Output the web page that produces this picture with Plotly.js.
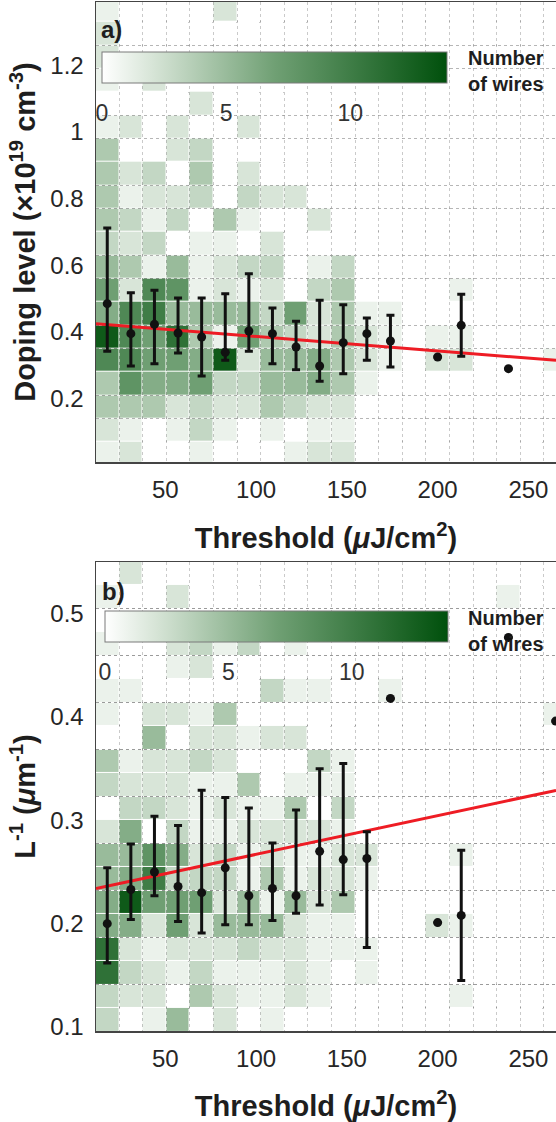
<!DOCTYPE html>
<html>
<head>
<meta charset="utf-8">
<script src="https://cdn.plot.ly/plotly-3.0.1.min.js"></script>
<style>
  html, body { margin: 0; padding: 0; background: #ffffff; }
  #chart { width: 556px; height: 1122px; }
</style>
</head>
<body>
<div id="chart"></div>
<script>
// ---------- data ----------
// threshold bins (columns), 20 bins of 13 uJ/cm2 starting at 11.5
const thresholdBinStart = 11.5;
const thresholdBinWidth = 13;
const thresholdTicks = [50, 100, 150, 200, 250];

// panel a: doping level bins (rows), 20 bins of 0.07 starting at 0
const dopingBinStart = 0;
const dopingBinWidth = 0.07;
const dopingTicks = [0.2, 0.4, 0.6, 0.8, 1, 1.2];

// panel b: inverse length bins (rows), 20 bins starting at 0.0955
const invLenBinStart = 0.0955;
const invLenBinWidth = 0.02273;
const invLenTicks = [0.1, 0.2, 0.3, 0.4, 0.5];

const countTicks = [0, 5, 10];

// number of wires per cell, rows from bottom to top, columns from left to right
const dopingCounts = [
  [1,2,0,0,1,0,0,0,1,2,2,0,0,0,0,0,0,0,0,0],
  [2,1,0,1,3,1,0,1,0,1,1,0,0,0,0,0,0,0,0,0],
  [4,4,4,2,3,2,2,4,3,2,2,0,0,0,0,0,0,0,0,0],
  [4,8,6,6,7,3,3,5,5,6,4,1,0,0,0,0,0,0,0,0],
  [9,9,7,7,6,13,2,5,5,6,4,2,1,0,2,2,0,0,0,1],
  [13,9,7,11,4,1,7,4,3,2,4,2,1,0,1,1,0,0,0,0],
  [6,9,10,5,5,5,5,3,7,2,4,1,1,0,0,0,0,0,0,0],
  [7,2,9,8,1,2,1,2,0,3,4,0,0,0,0,1,0,0,0,0],
  [5,4,1,5,1,2,3,3,0,1,3,0,0,0,0,0,0,0,0,0],
  [3,2,3,0,1,1,0,2,0,0,0,0,0,0,0,0,0,0,0,0],
  [4,3,1,3,0,4,1,0,0,2,0,0,0,0,0,0,0,0,0,0],
  [4,1,2,2,3,0,3,2,2,0,0,0,0,0,0,0,0,0,0,0],
  [4,2,3,0,4,0,2,0,0,0,0,0,0,0,0,0,0,0,0,0],
  [4,0,0,2,3,0,0,0,0,0,0,0,0,0,0,0,0,0,0,0],
  [1,2,0,2,0,0,2,0,0,0,0,0,0,0,0,0,0,0,0,0],
  [0,0,0,0,2,0,0,0,0,0,0,0,0,0,0,0,0,0,0,0],
  [1,0,2,0,0,0,0,0,0,0,0,0,0,0,0,0,0,0,0,0],
  [2,0,0,0,0,0,0,0,0,0,0,0,0,0,0,0,0,0,0,0],
  [2,0,0,0,0,0,0,0,0,0,0,0,0,0,0,0,0,0,0,0],
  [1,0,0,0,0,2,0,0,0,0,0,0,0,0,0,0,0,0,0,0]
];

const invLenCounts = [
  [3,0,1,5,0,2,0,1,0,0,0,0,0,0,0,0,0,0,0,0],
  [3,2,2,0,4,2,1,1,2,1,0,0,0,0,0,1,0,0,0,0],
  [11,3,2,1,3,1,1,1,2,1,0,1,0,0,0,0,0,0,0,0],
  [11,2,1,2,2,2,3,2,2,1,1,1,0,0,0,0,0,0,0,0],
  [6,6,2,7,2,5,5,5,2,1,1,0,0,0,2,1,0,0,0,0],
  [6,13,7,7,7,2,5,1,5,2,4,0,0,0,0,0,0,0,0,0],
  [5,6,10,3,3,3,1,4,1,2,2,1,0,0,0,0,0,0,0,0],
  [5,5,8,6,2,3,1,2,1,1,2,2,0,0,0,1,0,0,0,0],
  [2,6,0,3,1,1,2,2,2,2,1,0,0,0,0,0,0,0,0,0],
  [0,3,3,2,1,2,1,1,4,0,3,0,0,0,0,0,0,0,0,0],
  [3,2,2,2,1,1,4,0,1,1,1,0,0,0,0,0,0,0,0,0],
  [4,1,2,2,3,2,0,0,0,3,1,0,0,0,0,0,0,0,0,0],
  [0,0,5,0,2,2,1,2,2,0,0,0,0,0,0,0,0,0,0,0],
  [1,0,2,2,1,4,0,0,0,0,0,0,0,0,0,0,0,0,0,1],
  [1,1,0,0,0,0,0,3,1,1,0,0,1,0,0,0,0,0,0,0],
  [0,0,0,1,2,0,0,0,0,0,0,0,0,0,0,0,0,0,0,0],
  [1,0,0,2,3,1,3,0,1,0,0,0,0,0,0,0,0,0,0,0],
  [0,0,0,0,0,0,0,0,0,0,0,0,0,0,0,0,0,0,0,0],
  [1,0,0,2,0,0,0,0,0,0,0,0,0,0,0,0,0,1,0,0],
  [0,2,0,0,0,0,0,0,0,0,0,0,0,0,0,0,0,0,0,0]
];

// panel a: binned means with error-bar ends
const dopingX     = [18, 31, 44, 57, 70, 83, 96, 109, 122, 135, 148, 161, 174, 200, 213, 239];
const dopingMean  = [0.485, 0.395, 0.423, 0.397, 0.385, 0.339, 0.403, 0.395, 0.355, 0.298, 0.368, 0.395, 0.373, 0.325, 0.420, 0.290];
const dopingUpper = [0.712, 0.518, 0.525, 0.502, 0.502, 0.515, 0.575, 0.472, 0.432, 0.495, 0.482, 0.442, 0.450, null, 0.513, null];
const dopingLower = [0.342, 0.298, 0.305, 0.337, 0.268, 0.315, 0.342, 0.305, 0.287, 0.252, 0.275, 0.315, 0.295, null, 0.327, null];
const dopingFitX  = [11.8, 265.2];
const dopingFitY  = [0.425, 0.315];

// panel b: binned means with error-bar ends
const invLenX     = [18, 31, 44, 57, 70, 83, 96, 109, 122, 135, 148, 161, 174, 200, 213, 239, 265];
const invLenMean  = [0.200, 0.233, 0.250, 0.236, 0.230, 0.254, 0.227, 0.234, 0.227, 0.270, 0.262, 0.263, 0.418, 0.201, 0.208, 0.477, 0.396];
const invLenUpper = [0.254, 0.277, 0.304, 0.295, 0.329, 0.322, 0.312, 0.278, 0.310, 0.350, 0.355, 0.289, null, null, 0.271, null, null];
const invLenLower = [0.162, 0.204, 0.227, 0.202, 0.191, 0.199, 0.199, 0.203, 0.210, 0.218, 0.228, 0.177, null, null, 0.145, null, null];
const invLenFitX  = [11.8, 265.2];
const invLenFitY  = [0.234, 0.329];

// ---------- helpers ----------
function plusErr(upper, mean) { return upper.map((u, i) => u === null ? null : u - mean[i]); }
function minusErr(lower, mean) { return lower.map((l, i) => l === null ? null : mean[i] - l); }

const greens = [[0, '#ffffff'], [0.15, '#d6e4d6'], [0.5, '#70a074'], [1, '#00500c']];
const W = 556, H = 1122;
const gridStyle = { showgrid: true, gridcolor: '#959595', griddash: 'dot', gridwidth: 1 };
const tickFont = { family: 'Liberation Sans, Arial, sans-serif', size: 24, color: '#262626' };
const titleFont = { family: 'Liberation Sans, Arial, sans-serif', size: 29, color: '#1e1e1e' };

function colorbarFor(topPx, leftPx, lenPx) {
  return {
    orientation: 'h', xref: 'paper', yref: 'paper',
    x: (leftPx - 96) / (W - 96), xanchor: 'left',
    y: 1 - topPx / H, yanchor: 'top',
    len: lenPx, lenmode: 'pixels', thickness: 31, thicknessmode: 'pixels',
    xpad: 0, ypad: 0, outlinecolor: '#7a7a7a', outlinewidth: 1,
    bgcolor: 'rgba(0,0,0,0)', borderwidth: 0,
    tickvals: countTicks, ticks: 'outside', ticklen: 10, tickcolor: 'rgba(0,0,0,0)',
    tickfont: { family: 'Liberation Sans, Arial, sans-serif', size: 23, color: '#333' }
  };
}

const traces = [
  {
    type: 'heatmap', xaxis: 'x', yaxis: 'y', z: dopingCounts,
    x0: thresholdBinStart + thresholdBinWidth / 2, dx: thresholdBinWidth,
    y0: dopingBinStart + dopingBinWidth / 2, dy: dopingBinWidth,
    colorscale: greens, zmin: 0, zmax: 13.9, xgap: 1, ygap: 1, hoverinfo: 'skip',
    colorbar: colorbarFor(52, 102, 345)
  },
  {
    type: 'scatter', mode: 'lines', xaxis: 'x', yaxis: 'y',
    x: dopingFitX, y: dopingFitY, line: { color: '#ee1c24', width: 3 }, showlegend: false
  },
  {
    type: 'scatter', mode: 'markers', xaxis: 'x', yaxis: 'y',
    x: dopingX, y: dopingMean,
    error_y: { type: 'data', symmetric: false, array: plusErr(dopingUpper, dopingMean),
               arrayminus: minusErr(dopingLower, dopingMean), color: '#111', thickness: 3, width: 4 },
    marker: { color: '#111', size: 9 }, showlegend: false
  },
  {
    type: 'heatmap', xaxis: 'x2', yaxis: 'y2', z: invLenCounts,
    x0: thresholdBinStart + thresholdBinWidth / 2, dx: thresholdBinWidth,
    y0: invLenBinStart + invLenBinWidth / 2, dy: invLenBinWidth,
    colorscale: greens, zmin: 0, zmax: 13.9, xgap: 1, ygap: 1, hoverinfo: 'skip',
    colorbar: colorbarFor(611, 105, 343)
  },
  {
    type: 'scatter', mode: 'lines', xaxis: 'x2', yaxis: 'y2',
    x: invLenFitX, y: invLenFitY, line: { color: '#ee1c24', width: 3 }, showlegend: false
  },
  {
    type: 'scatter', mode: 'markers', xaxis: 'x2', yaxis: 'y2',
    x: invLenX, y: invLenMean,
    error_y: { type: 'data', symmetric: false, array: plusErr(invLenUpper, invLenMean),
               arrayminus: minusErr(invLenLower, invLenMean), color: '#111', thickness: 3, width: 4 },
    marker: { color: '#111', size: 9 }, showlegend: false
  }
];

function xAxis(anchor) {
  return {
    domain: [0, 1], anchor: anchor, range: [11.8, 265.2],
    tickmode: 'array', tickvals: thresholdTicks, ticks: '', ticklabelstandoff: 6,
    tickfont: tickFont, showgrid: false, zeroline: false,
    minor: Object.assign({ tick0: thresholdBinStart, dtick: thresholdBinWidth, ticks: '' }, gridStyle),
    showline: true, mirror: true, linecolor: '#444', linewidth: 1.5,
    automargin: false,
    title: { text: '<b>Threshold (<i>μ</i>J/cm<sup>2</sup>)</b>', font: titleFont, standoff: 25 }
  };
}

const layout = {
  width: W, height: H,
  margin: { l: 96, r: 0, t: 0, b: 0 },
  paper_bgcolor: '#ffffff', plot_bgcolor: '#ffffff',
  font: { family: 'Liberation Sans, Arial, sans-serif', color: '#222' },
  showlegend: false,
  xaxis: xAxis('y'),
  yaxis: {
    domain: [1 - 462 / H, 1 - 2 / H], anchor: 'x', range: [0.01, 1.39],
    tickmode: 'array', tickvals: dopingTicks, ticks: '', ticklabelstandoff: 6,
    tickfont: tickFont, showgrid: false, zeroline: false,
    minor: Object.assign({ tick0: dopingBinStart, dtick: dopingBinWidth, ticks: '' }, gridStyle),
    showline: true, mirror: true, linecolor: '#444', linewidth: 1.5, automargin: false,
    title: { text: '<b>Doping level (×10<sup>19</sup> cm<sup>-3</sup>)</b>', font: titleFont, standoff: 6 }
  },
  xaxis2: xAxis('y2'),
  yaxis2: {
    domain: [1 - 1031 / H, 1 - 562 / H], anchor: 'x2', range: [0.0961, 0.55],
    tickmode: 'array', tickvals: invLenTicks, ticks: '', ticklabelstandoff: 6,
    tickfont: tickFont, showgrid: false, zeroline: false,
    minor: Object.assign({ tick0: invLenBinStart, dtick: invLenBinWidth, ticks: '' }, gridStyle),
    showline: true, mirror: true, linecolor: '#444', linewidth: 1.5, automargin: false,
    title: { text: '<b>L<sup>-1</sup> (<i>μ</i>m<sup>-1</sup>)</b>', font: titleFont, standoff: 6 }
  },
  annotations: [
    { xref: 'x domain', yref: 'y domain', x: 0.006, y: 0.975, xanchor: 'left', yanchor: 'top',
      text: '<b>a)</b>', showarrow: false, font: { size: 24, color: '#1e1e1e' } },
    { xref: 'x domain', yref: 'y domain', x: 0.891, y: 0.85, xanchor: 'center', yanchor: 'middle',
      text: '<b>Number<br>of wires</b>', showarrow: false, font: { size: 20, color: '#1e1e1e' } },
    { xref: 'x2 domain', yref: 'y2 domain', x: 0.008, y: 0.971, xanchor: 'left', yanchor: 'top',
      text: '<b>b)</b>', showarrow: false, font: { size: 24, color: '#1e1e1e' } },
    { xref: 'x2 domain', yref: 'y2 domain', x: 0.891, y: 0.853, xanchor: 'center', yanchor: 'middle',
      text: '<b>Number<br>of wires</b>', showarrow: false, font: { size: 20, color: '#1e1e1e' } }
  ]
};

Plotly.newPlot('chart', traces, layout, { staticPlot: true, displayModeBar: false });
</script>
</body>
</html>
